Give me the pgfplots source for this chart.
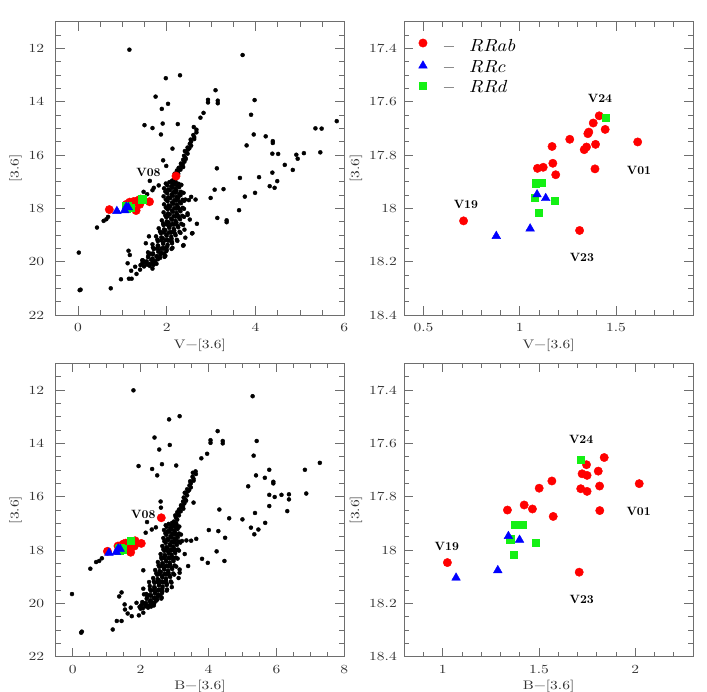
\documentclass[border=0pt]{standalone}
\usepackage{fontspec}
\usepackage{pgfplots}
\usepackage{pgfplotstable}
\pgfplotsset{compat=1.18}
\newfontfamily\pgfont[Extension=.otf,FakeStretch=1.25]{lmroman10-regular}
\newfontfamily\pgitfont[Extension=.otf,FakeStretch=1.12]{lmroman10-italic}
\newfontfamily\pgbfont[Extension=.otf]{lmroman10-bold}
\definecolor{rrred}{RGB}{255,0,0}
\definecolor{rrblue}{RGB}{0,0,255}
\definecolor{rrgreen}{RGB}{20,240,20}
\definecolor{framec}{RGB}{110,110,110}

\pgfplotstableread{
v b m
2.67 3.62 15.05
2.67 3.63 15.15
2.60 3.53 15.25
2.62 3.56 15.33
2.62 3.56 15.40
2.54 3.46 15.42
2.55 3.48 15.50
2.52 3.44 15.58
2.55 3.48 15.65
2.47 3.37 15.72
2.51 3.43 15.75
2.48 3.39 15.80
2.41 3.30 15.85
2.43 3.33 15.88
2.47 3.37 15.95
2.39 3.27 16.03
2.42 3.32 16.10
2.43 3.34 16.15
2.37 3.25 16.18
2.40 3.29 16.25
2.32 3.19 16.32
2.36 3.25 16.35
2.33 3.20 16.40
2.37 3.26 16.45
2.27 3.13 16.48
2.31 3.18 16.55
2.23 3.08 16.58
2.25 3.11 16.62
2.26 3.13 16.70
2.18 3.02 16.70
2.20 3.04 16.78
2.22 3.08 16.86
2.15 2.98 16.93
2.20 3.05 17.00
2.11 2.93 16.98
1.98 2.74 17.07
2.06 2.83 17.02
2.13 2.91 17.09
2.19 2.98 17.04
2.27 3.07 17.08
2.01 2.77 17.13
2.10 2.87 17.18
2.17 2.96 17.11
2.24 3.04 17.16
2.33 3.14 17.12
1.94 2.69 17.25
2.03 2.80 17.29
2.13 2.91 17.23
2.20 2.99 17.27
2.28 3.09 17.21
1.97 2.73 17.37
2.07 2.84 17.32
2.15 2.93 17.39
2.22 3.02 17.34
2.32 3.13 17.38
2.01 2.76 17.43
2.11 2.88 17.48
2.20 2.98 17.41
2.28 3.07 17.46
2.38 3.19 17.42
1.93 2.67 17.55
2.03 2.79 17.59
2.14 2.91 17.53
2.22 2.99 17.57
2.31 3.10 17.51
2.05 2.80 17.60
2.26 3.05 17.60
1.98 2.70 17.67
2.08 2.82 17.62
2.17 2.92 17.69
2.25 3.01 17.64
2.36 3.13 17.68
2.02 2.74 17.73
2.12 2.86 17.78
2.21 2.96 17.71
2.29 3.05 17.76
2.39 3.17 17.72
1.94 2.64 17.85
2.04 2.76 17.89
2.15 2.88 17.83
2.23 2.96 17.87
2.32 3.07 17.81
1.98 2.67 17.97
2.08 2.79 17.92
2.17 2.89 17.99
2.25 2.98 17.94
2.36 3.10 17.98
2.05 2.77 18.00
2.27 3.03 18.00
2.02 2.70 18.03
2.12 2.82 18.08
2.21 2.92 18.01
2.29 3.01 18.06
2.39 3.13 18.02
1.93 2.59 18.15
2.03 2.71 18.19
2.14 2.83 18.13
2.22 2.91 18.17
2.31 3.02 18.11
1.97 2.61 18.27
2.07 2.73 18.22
2.16 2.83 18.29
2.24 2.92 18.24
2.35 3.04 18.28
2.02 2.70 18.30
2.26 2.98 18.30
1.99 2.62 18.33
2.10 2.75 18.38
2.20 2.86 18.31
2.28 2.96 18.36
2.39 3.09 18.32
1.89 2.51 18.45
2.00 2.64 18.49
2.12 2.76 18.43
2.20 2.86 18.47
2.30 2.97 18.41
1.92 2.53 18.57
2.04 2.66 18.52
2.13 2.78 18.59
2.22 2.87 18.54
2.33 3.00 18.58
2.00 2.62 18.60
2.10 2.74 18.61
2.20 2.86 18.59
1.93 2.55 18.63
2.05 2.69 18.68
2.16 2.81 18.61
2.25 2.91 18.66
2.37 3.05 18.62
1.82 2.43 18.75
1.94 2.56 18.79
2.06 2.70 18.73
2.16 2.81 18.77
2.26 2.93 18.71
1.85 2.46 18.87
1.97 2.60 18.82
2.08 2.72 18.89
2.17 2.82 18.84
2.29 2.96 18.88
1.93 2.56 18.90
2.05 2.70 18.91
2.15 2.82 18.89
1.87 2.49 18.93
1.99 2.63 18.98
2.10 2.75 18.91
2.19 2.85 18.96
2.31 2.99 18.92
1.76 2.37 19.05
1.88 2.50 19.09
2.00 2.64 19.03
2.10 2.75 19.07
2.20 2.87 19.01
1.79 2.39 19.17
1.91 2.53 19.12
2.02 2.65 19.19
2.11 2.75 19.14
2.23 2.89 19.18
1.88 2.50 19.20
1.98 2.61 19.19
2.08 2.73 19.21
1.80 2.41 19.23
1.92 2.55 19.28
2.03 2.67 19.21
2.12 2.77 19.26
2.24 2.91 19.22
1.68 2.27 19.35
1.80 2.40 19.39
1.92 2.54 19.33
2.02 2.65 19.37
2.12 2.77 19.31
1.69 2.28 19.47
1.81 2.42 19.42
1.92 2.54 19.49
2.01 2.64 19.44
2.13 2.78 19.48
1.78 2.39 19.50
1.88 2.51 19.51
1.98 2.62 19.49
1.71 2.30 19.53
1.82 2.43 19.58
1.92 2.54 19.51
2.00 2.64 19.56
2.11 2.77 19.52
1.58 2.17 19.65
1.69 2.30 19.69
1.81 2.42 19.63
1.89 2.52 19.67
1.99 2.63 19.61
1.64 2.24 19.70
1.94 2.58 19.70
1.59 2.19 19.77
1.69 2.31 19.72
1.78 2.41 19.79
1.86 2.50 19.74
1.97 2.62 19.78
1.58 2.18 19.83
1.68 2.30 19.88
1.77 2.40 19.81
1.85 2.49 19.86
1.95 2.61 19.82
1.46 2.05 19.95
1.55 2.16 19.99
1.65 2.27 19.93
1.72 2.35 19.97
1.80 2.45 19.91
1.50 2.10 20.00
1.74 2.40 20.00
1.45 2.02 20.07
1.53 2.12 20.02
1.61 2.21 20.09
1.68 2.29 20.04
1.77 2.39 20.08
1.41 1.97 20.13
1.49 2.07 20.18
1.56 2.15 20.11
1.62 2.22 20.16
1.70 2.31 20.12
}\giant

\pgfplotstableread{
x y
1.16 12.05
3.71 12.25
1.98 13.12
2.30 13.01
3.10 13.57
1.75 13.81
2.03 14.08
1.89 14.27
2.93 13.93
2.93 14.03
3.15 13.96
3.15 14.06
3.98 13.94
2.83 14.42
2.76 14.60
3.90 14.49
1.50 14.88
1.68 14.99
1.91 14.82
2.25 14.84
1.87 15.23
2.61 14.95
3.96 15.23
4.23 15.30
3.80 15.64
4.39 15.48
4.39 15.55
4.38 15.95
4.51 15.96
5.35 15.00
5.49 15.01
5.83 14.73
5.46 15.90
5.09 15.93
4.92 15.99
4.95 16.14
4.66 16.37
4.84 16.56
4.38 16.66
4.49 16.98
4.43 17.23
4.32 17.17
4.08 16.83
3.65 16.86
3.99 17.42
3.76 17.56
3.63 18.07
3.13 16.50
3.08 17.30
3.28 17.28
2.99 17.61
3.14 18.36
3.35 18.45
3.35 18.52
2.68 18.58
2.58 18.93
2.37 19.40
2.13 15.76
1.92 16.20
1.99 16.41
1.62 16.97
1.68 17.32
1.56 17.47
1.82 17.14
1.71 17.23
1.48 17.38
0.43 18.72
0.58 18.47
0.64 18.41
0.68 18.32
0.02 19.66
0.04 21.07
0.06 21.05
0.74 21.00
0.97 20.66
1.15 20.64
1.21 20.64
1.14 19.59
1.17 19.75
1.12 20.06
1.29 20.19
1.20 20.34
1.32 20.46
1.48 20.05
1.68 20.26
2.42 17.67
2.50 17.69
2.55 17.57
2.65 17.67
2.47 18.19
2.52 18.42
2.57 18.94
2.38 19.38
2.47 18.25
1.53 19.31
1.60 19.05
1.40 20.30
1.45 19.95
2.40 18.80
2.42 19.10
}\sparseV

\pgfplotstableread{
x y
1.79 12.01
5.30 12.23
2.84 13.10
3.15 12.98
4.27 13.54
2.41 13.78
2.86 14.06
2.55 14.23
4.06 13.88
4.06 13.98
4.42 13.91
4.42 14.00
5.42 13.91
3.96 14.39
3.79 14.56
5.33 14.46
1.94 14.85
2.34 14.96
2.63 14.78
3.05 14.83
2.49 15.20
3.54 15.10
5.40 15.20
5.66 15.29
5.17 15.61
5.91 15.44
5.91 15.50
5.79 14.99
6.84 14.99
7.28 14.73
6.88 15.88
6.37 15.91
6.37 16.10
6.15 15.93
5.79 15.93
5.95 16.01
5.79 16.35
6.32 16.54
5.67 16.98
5.37 16.61
5.47 17.23
5.25 17.16
5.35 17.41
5.00 16.85
4.61 16.81
4.32 16.48
4.01 17.25
4.29 17.29
4.49 17.54
4.24 18.05
3.81 18.33
3.98 18.48
4.47 18.41
3.64 17.58
3.49 17.65
3.35 17.64
3.22 17.66
3.15 18.73
3.15 18.85
2.92 19.39
3.56 16.22
2.59 16.18
2.60 16.41
2.19 16.95
2.33 17.23
2.15 17.35
2.45 17.15
0.52 18.70
0.69 18.45
0.78 18.41
0.86 18.31
-0.02 19.65
0.25 21.10
0.27 21.06
1.18 20.98
1.30 20.66
1.44 20.66
1.37 19.74
1.44 19.59
1.53 20.04
1.71 20.16
1.88 19.98
1.54 20.23
1.62 20.38
1.74 20.48
2.08 20.35
2.08 18.76
2.08 19.45
2.10 19.66
3.30 18.15
3.40 18.60
3.12 19.05
2.25 19.20
2.00 20.20
1.95 20.45
}\sparseB

\pgfplotstableread{
v b m
0.708 1.024 18.047
1.311 1.709 18.083
1.613 2.021 17.751
1.413 1.839 17.653
1.382 1.747 17.680
1.444 1.808 17.704
1.359 1.724 17.714
1.354 1.750 17.720
1.260 1.567 17.741
1.394 1.815 17.760
1.168 1.501 17.768
1.347 1.717 17.770
1.335 1.750 17.780
1.172 1.423 17.831
1.122 1.466 17.846
1.092 1.336 17.850
1.391 1.816 17.852
1.187 1.574 17.874
2.210 2.610 16.790
}\rrab

\pgfplotstableread{
v b m
0.878 1.069 18.104
1.054 1.286 18.076
1.090 1.341 17.948
1.135 1.399 17.962
}\rrc

\pgfplotstableread{
v b m
1.085 1.374 17.906
1.116 1.416 17.904
1.078 1.350 17.959
1.181 1.482 17.972
1.099 1.369 18.016
1.448 1.716 17.661
}\rrd

\pgfplotsset{
  cmd/.style={
    width=288.6pt, height=293.3pt, scale only axis,
    y dir=reverse,
    axis line style={framec, line width=0.6pt},
    every tick/.style={framec, line width=0.6pt},
    major tick length=9pt, minor tick length=5pt,
    tick align=inside,
    xtick pos=both, ytick pos=both,
    /pgf/number format/assume math mode=true,
    ticklabel style={font=\fontsize{12.4}{14}\pgfont, text=black!80},
    label style={font=\fontsize{12.4}{14}\pgfont, text=black!80},
    ylabel={[3.6]},
    xticklabel style={yshift=-5pt},
  },
  field/.style={only marks, mark=*, mark size=2pt, black},
  rrabs/.style={only marks, mark=*, mark size=4.2pt, color=rrred},
  rrcs/.style={only marks, mark=triangle*, mark size=5pt, color=rrblue},
  rrds/.style={only marks, mark=square*, mark size=3.6pt, color=rrgreen},
}
\tikzset{
  lab/.style={font=\fontsize{12}{14}\pgbfont, text=black},
  legt/.style={font=\fontsize{17.5}{20}\pgitfont, anchor=base west, text=black},
}

\begin{document}
\begin{tikzpicture}
\path[use as bounding box] (0,0) rectangle (707pt,692pt);

% top left
\begin{axis}[cmd, at={(55.7pt,377pt)}, anchor=south west,
  xmin=-0.5, xmax=6, ymin=11, ymax=22,
  xtick={0,2,4,6}, minor xtick={-0.5,0,...,6},
  ytick={12,14,16,18,20,22}, minor ytick={11,11.5,...,22},
  yticklabel style={xshift=-8pt},
  xlabel={V−[3.6]}]
\addplot[field] table[x=v,y=m]{\giant};
\addplot[field] table[x=x,y=y]{\sparseV};
\addplot[rrabs] table[x=v,y=m]{\rrab};
\addplot[rrds] table[x=v,y=m]{\rrd};
\addplot[rrcs] table[x=v,y=m]{\rrc};
\node[lab] at (axis cs:1.59,16.66) {V08};
\end{axis}

% top right
\begin{axis}[cmd, at={(404.3pt,377pt)}, anchor=south west,
  xmin=0.4, xmax=1.9, ymin=17.3, ymax=18.4,
  xtick={0.5,1,1.5}, minor xtick={0.4,0.5,...,1.9},
  ytick={17.4,17.6,17.8,18,18.2,18.4}, minor ytick={17.3,17.35,...,18.4},
  yticklabel style={xshift=-4pt},
  xlabel={V−[3.6]}]
\addplot[rrabs] table[x=v,y=m]{\rrab};
\addplot[rrds] table[x=v,y=m]{\rrd};
\addplot[rrcs] table[x=v,y=m]{\rrc};
\node[lab] at (axis cs:1.417,17.587) {V24};
\node[lab] at (axis cs:1.62,17.857) {V01};
\node[lab] at (axis cs:0.72,17.986) {V19};
\node[lab] at (axis cs:1.323,18.185) {V23};
\addplot[rrabs] coordinates {(0.497,17.380)};
\addplot[rrcs] coordinates {(0.497,17.465)};
\addplot[rrds] coordinates {(0.497,17.539)};
\draw[black!45, line width=0.7pt] (axis cs:0.604,17.394) -- (axis cs:0.656,17.394);
\draw[black!45, line width=0.7pt] (axis cs:0.604,17.471) -- (axis cs:0.656,17.471);
\draw[black!45, line width=0.7pt] (axis cs:0.604,17.548) -- (axis cs:0.656,17.548);
\node[legt] at (axis cs:0.717,17.412) {RRab};
\node[legt] at (axis cs:0.717,17.489) {RRc};
\node[legt] at (axis cs:0.717,17.566) {RRd};
\end{axis}

% bottom left
\begin{axis}[cmd, at={(55.7pt,35.3pt)}, anchor=south west,
  xmin=-0.5, xmax=8, ymin=11, ymax=22,
  xtick={0,2,4,6,8}, minor xtick={-0.5,0,...,8},
  ytick={12,14,16,18,20,22}, minor ytick={11,11.5,...,22},
  yticklabel style={xshift=-8pt},
  xlabel={B−[3.6]}]
\addplot[field] table[x=b,y=m]{\giant};
\addplot[field] table[x=x,y=y]{\sparseB};
\addplot[rrabs] table[x=b,y=m]{\rrab};
\addplot[rrds] table[x=b,y=m]{\rrd};
\addplot[rrcs] table[x=b,y=m]{\rrc};
\node[lab] at (axis cs:2.08,16.65) {V08};
\end{axis}

% bottom right
\begin{axis}[cmd, at={(404.3pt,35.3pt)}, anchor=south west,
  xmin=0.8, xmax=2.3, ymin=17.3, ymax=18.4,
  xtick={1,1.5,2}, minor xtick={0.8,0.9,...,2.3},
  ytick={17.4,17.6,17.8,18,18.2,18.4}, minor ytick={17.3,17.35,...,18.4},
  yticklabel style={xshift=-4pt},
  xlabel={B−[3.6]}]
\addplot[rrabs] table[x=b,y=m]{\rrab};
\addplot[rrds] table[x=b,y=m]{\rrd};
\addplot[rrcs] table[x=b,y=m]{\rrc};
\node[lab] at (axis cs:1.719,17.585) {V24};
\node[lab] at (axis cs:2.018,17.855) {V01};
\node[lab] at (axis cs:1.021,17.985) {V19};
\node[lab] at (axis cs:1.722,18.185) {V23};
\end{axis}
\end{tikzpicture}
\end{document}
